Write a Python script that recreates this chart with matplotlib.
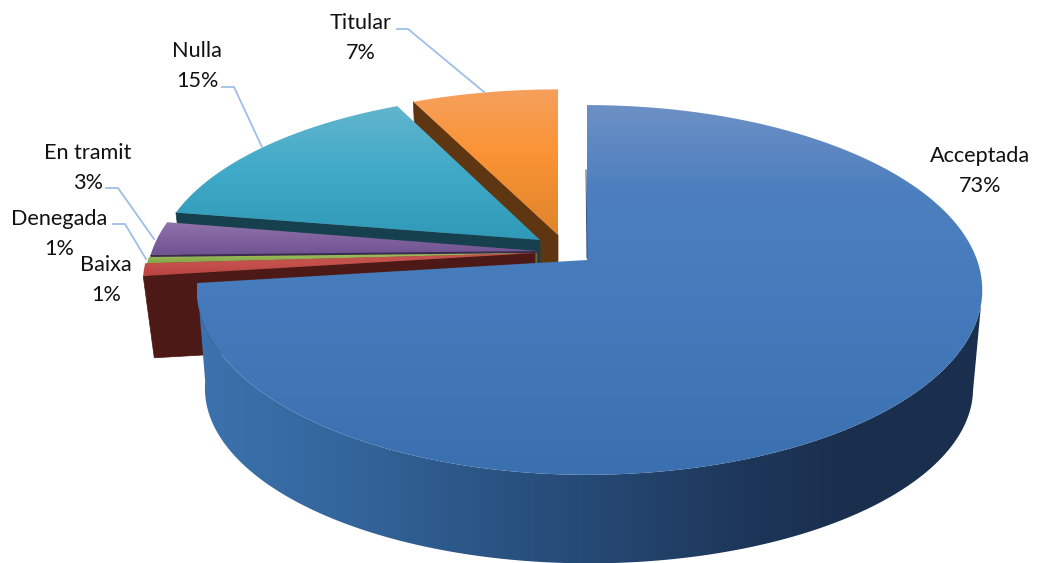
""" 3D style exploded pie of request status, drawn with polygons in pixel coordinates. """
import numpy as np
import matplotlib
matplotlib.use('Agg')
import matplotlib.pyplot as plt
from matplotlib.colors import LinearSegmentedColormap
from matplotlib.patches import Polygon

# data, clockwise from 12 o'clock
categories = ['Acceptada', 'Baixa', 'Denegada', 'En tramit', 'Nulla', 'Titular']
values = [73.0, 1.1, 0.55, 3.0, 15.25, 7.1]

# layout of each slice: top apex, (x, y) scale, wall height
apexes = [(587, 260), (535, 253), (537, 253), (538, 251), (540, 240), (558, 235)]
scales = [(1.0, 1.0), (0.992, 1.0), (0.992, 1.0), (0.99, 0.99), (0.972, 0.945), (0.985, 0.94)]
depths = [100, 83, 83, 83, 85, 90]

top_colors = [
  [(105, '#6c90c5'), (190, '#4d7fbe'), (300, '#457bbc'), (470, '#3b70b0')],
  [(262, '#c6524e'), (277, '#b8423f')],
  [(256, '#9bbb59'), (262, '#86a84a')],
  [(222, '#9072ab'), (255, '#6f5290')],
  [(106, '#62b5cd'), (170, '#40aac8'), (245, '#2f98b6')],
  [(88, '#f5a05e'), (150, '#fb9436'), (240, '#df832b')],
]
wall_colors = ['#1d3557', '#4c1916', '#5d7030', '#3b2a50', '#17404f', '#5f3612']
side_stops = [(205, '#3b72ad'), (350, '#33659b'), (480, '#2b5585'), (600, '#254873'),
              (750, '#1d3659'), (850, '#1a2f4e'), (982, '#1a2e4d')]

label_pos = {
  'Acceptada': (980, 171), 'Baixa': (106, 280), 'Denegada': (59, 234),
  'En tramit': (88, 168), 'Nulla': (197, 66), 'Titular': (361, 38),
}
leaders = {
  'Titular': [(397, 29), (408, 29), (484, 92)],
  'Nulla': [(222, 87), (234, 87), (262, 147)],
  'En tramit': [(106, 188), (118, 188), (154, 239)],
  'Denegada': [(113, 224), (125, 224), (146, 259)],
}

# perspective of the pie disc
TOP_A, TOP_B = 390, 180
BOT_A, BOT_B = 379, 170.4
K = 0.162
MAIN_LEFT = 0.987  # the big slice is a bit narrower on its left side

plt.rcParams['font.family'] = ['Lato', 'DejaVu Sans']
fig = plt.figure(figsize=(10.4, 5.63), dpi=100)
ax = fig.add_axes([0, 0, 1, 1])
ax.axis('off')


def rim(theta, apex, scale, a=TOP_A, b=TOP_B, left=1.0):
  # theta in degrees clockwise from the top, returns screen points
  t = np.radians(np.atleast_1d(theta))
  d = 1 + K*np.cos(t)
  x = scale[0]*a*np.sin(t)/d
  x = np.where(x < 0, x*left, x)
  return np.column_stack([apex[0] + x, apex[1] - scale[1]*b*np.cos(t)/d])


def gradient_fill(points, stops, zorder, horizontal=False):
  pos = [s[0] for s in stops]
  lo, hi = pos[0], pos[-1]
  cmap = LinearSegmentedColormap.from_list('g', [((p-lo)/(hi-lo), c) for p, c in stops])
  xmin, xmax = points[:, 0].min(), points[:, 0].max()
  ymin, ymax = points[:, 1].min(), points[:, 1].max()
  if horizontal:
    cells = np.clip((np.linspace(xmin, xmax, 512) - lo)/(hi-lo), 0, 1).reshape(1, -1)
  else:
    cells = np.clip((np.linspace(ymin, ymax, 512) - lo)/(hi-lo), 0, 1).reshape(-1, 1)
  im = ax.imshow(cells, cmap=cmap, vmin=0, vmax=1, extent=(xmin, xmax, ymax, ymin),
                 aspect='auto', interpolation='bilinear', zorder=zorder)
  patch = Polygon(points, closed=True, transform=ax.transData, facecolor='none', edgecolor='none')
  ax.add_patch(patch)
  im.set_clip_path(patch)


edges = np.concatenate([[0], np.cumsum(values)])*3.6
order = [5, 4, 3, 2, 1, 0]  # back to front, the big slice goes last
z = 2
for i in order:
  start, end = edges[i], edges[i+1]
  apex = apexes[i]
  scale = scales[i]
  left = MAIN_LEFT if i == 0 else 1.0
  bottom = (apex[0] + (2 if i == 0 else 0), apex[1] + depths[i])

  if i == 0:
    # outer wall of the front slice, shaded left to right
    thetas = np.linspace(100, end, 300)
    top = rim(thetas, apex, scale, left=left)
    bot = rim(thetas, bottom, scale, BOT_A, BOT_B)
    gradient_fill(np.vstack([top, bot[::-1]]), side_stops, z, horizontal=True)
    z += 1
  else:
    # inner wall along the leading edge of the slice
    wall = np.vstack([rim(start, apex, scale), apex, bottom,
                      rim(start, bottom, scale, BOT_A, BOT_B)])
    ax.add_patch(Polygon(wall, closed=True, facecolor=wall_colors[i],
                         edgecolor=wall_colors[i], linewidth=0.5, zorder=z))
    z += 1

  n = max(int(end-start)*2, 8)
  outline = np.vstack([[apex], rim(np.linspace(start, end, n), apex, scale, left=left)])
  gradient_fill(outline, top_colors[i], z)
  z += 1

# sliver of the wall seen at 12 o'clock
ax.plot([apexes[0][0]-1, apexes[0][0]], [170, apexes[0][1]-2], color='#2f4f7f', lw=0.7, zorder=z)
z += 1

for name, pts in leaders.items():
  pts = np.array(pts)
  ax.plot(pts[:, 0], pts[:, 1], color='#9dbfe6', lw=1.3, zorder=z)

for name, value in zip(categories, values):
  x, y = label_pos[name]
  ax.text(x, y, f"{name}\n{round(value)}%", ha='center', va='center', fontsize=15.6,
          linespacing=1.66, color='#111111', zorder=z+1)

ax.set_xlim(0, 1040)
ax.set_ylim(563, 0)
fig.savefig('out.png', dpi=100, facecolor='white')
